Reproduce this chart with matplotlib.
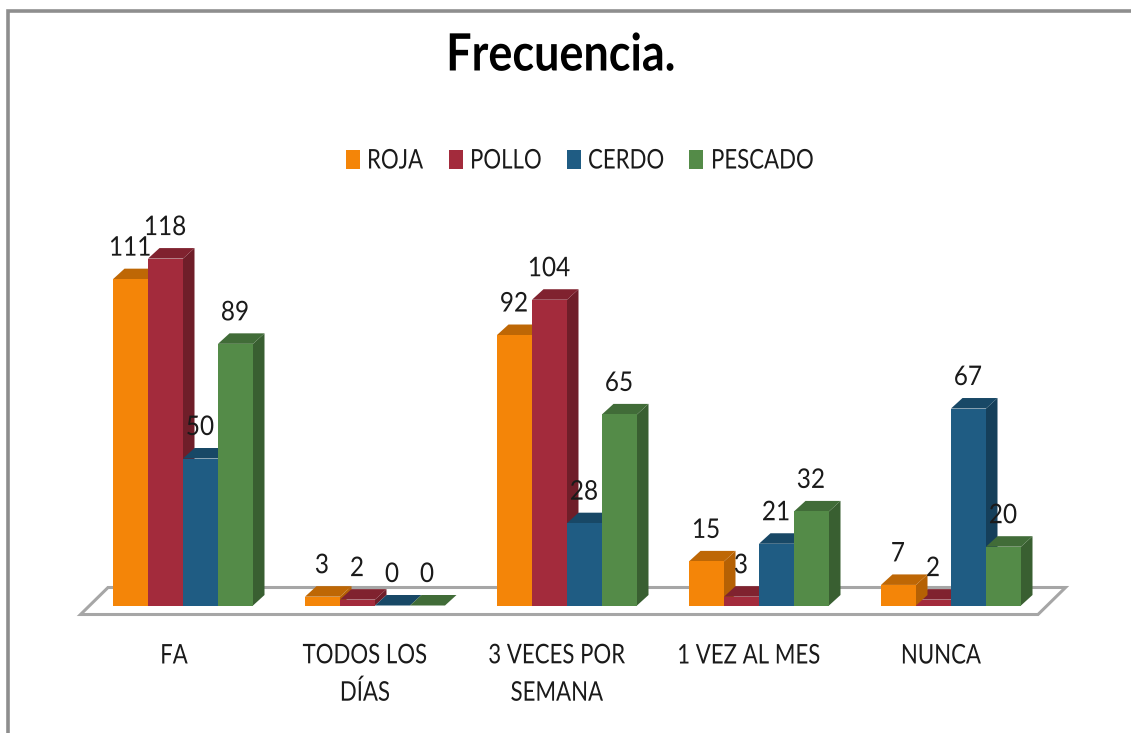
import matplotlib
matplotlib.use("Agg")
import matplotlib.pyplot as plt
from matplotlib.patches import Polygon, Rectangle
from matplotlib.lines import Line2D
from matplotlib.patheffects import AbstractPathEffect
from matplotlib.transforms import Affine2D

categories = ["FA", "TODOS LOS\nDÍAS", "3 VECES POR\nSEMANA", "1 VEZ AL MES", "NUNCA"]
series_names = ["ROJA", "POLLO", "CERDO", "PESCADO"]
roja = [111, 3, 92, 15, 7]
pollo = [118, 2, 104, 3, 2]
cerdo = [50, 0, 28, 21, 67]
pescado = [89, 0, 65, 32, 20]
all_series = [roja, pollo, cerdo, pescado]
front = ["#F48508", "#A32B3C", "#1F5C83", "#548B48"]
top = ["#BE6705", "#80222F", "#184866", "#416C38"]
side = ["#B56104", "#6F1E29", "#153F5A", "#395F31"]

W, H = 1131, 733
plt.rcParams["font.family"] = ["Lato", "DejaVu Sans"]
fig = plt.figure(figsize=(W / 100, H / 100), dpi=100)
ax = fig.add_axes([0, 0, 1, 1])
ax.set_xlim(0, W)
ax.set_ylim(H, 0)
ax.axis("off")

BASE = 605.5
UNIT = 2.94
G0, GSTEP, BW = 113, 192, 35
DX, DY = 11.5, 10.5
vy = lambda v: BASE - UNIT * v
TXT = "#1A1A1A"
FS = 19.5
NARROW = 0.82


class Condense(AbstractPathEffect):
    """Draws text narrower about a fixed column, as the condensed face of the reference."""

    def __init__(self, cx, k):
        super().__init__()
        self.cx, self.k = cx, k

    def draw_path(self, renderer, gc, tpath, affine, rgbFace=None):
        squeeze = Affine2D().translate(-self.cx, 0).scale(self.k, 1).translate(self.cx, 0)
        renderer.draw_path(gc, tpath, affine + squeeze, rgbFace)


def label(x, y, s, k=NARROW, **kw):
    kw.setdefault("ha", "center")
    kw.setdefault("va", "center")
    kw.setdefault("fontsize", FS)
    kw.setdefault("color", TXT)
    t = ax.text(x, y, s, **kw)
    t.set_path_effects([Condense(x, k)])
    return t


# frame
ax.add_line(Line2D([7.5, 7.5, 1131], [733, 11, 11], color="#8E8E8E", lw=2.6, solid_joinstyle="miter"))

# floor
ax.add_patch(Polygon([(80.5, 614.5), (108, 587.5), (1065.5, 587.5), (1038, 614.5)], closed=True,
                     fc="white", ec="#A6A6A6", lw=2.2, joinstyle="miter", zorder=1))

for g in range(len(categories)):
    for s, vals in enumerate(all_series):
        v = vals[g]
        x0 = G0 + GSTEP * g + BW * s
        x1 = x0 + BW
        yt = vy(v)
        z = 3 + 0.1 * s
        if g == 4 and s == 1:
            z = 2.9
        ax.add_patch(Polygon([(x1, yt), (x1 + DX, yt - DY), (x1 + DX, BASE - DY), (x1, BASE)],
                             closed=True, fc=side[s], ec="none", zorder=z))
        ax.add_patch(Polygon([(x0, yt), (x0 + DX, yt - DY), (x1 + DX, yt - DY), (x1, yt)],
                             closed=True, fc=top[s], ec="none", zorder=z))
        ax.add_patch(Rectangle((x0, yt), BW, v * UNIT, fc=front[s], ec="none", zorder=z + 0.01))
        label(x0 + 17, yt - 31, str(v), k=0.9, zorder=10)

# category labels
label_x = [174, 365, 557, 749, 941]
for x, c in zip(label_x, categories):
    label(x, 656 if "\n" not in c else 674.5, c, linespacing=1.62)

# title
label(561, 56, "Frecuencia.", k=0.875, fontsize=37, fontweight="bold", color="black")

# legend
leg_sw = [346, 449, 567, 689]
leg_tx = [367, 470, 588, 711]
for sx, tx, n, c in zip(leg_sw, leg_tx, series_names, front):
    ax.add_patch(Rectangle((sx, 150), 14, 19, fc=c, ec="none"))
    label(tx, 161, n, ha="left")

fig.savefig("out.png", dpi=100)
